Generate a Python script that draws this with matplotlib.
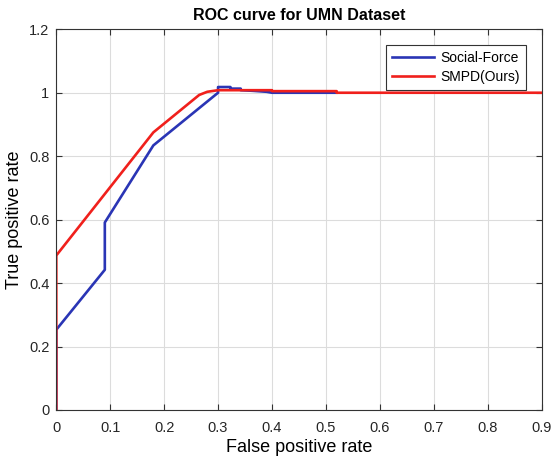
import numpy as np
import matplotlib.pyplot as plt

plt.rcParams['font.family'] = ['Liberation Sans', 'DejaVu Sans']

# Social-Force ROC points
sf_fpr = [0.0, 0.0, 0.09, 0.09, 0.18, 0.30, 0.30, 0.323, 0.323, 0.342, 0.342, 0.365, 0.39, 0.40, 0.519]
sf_tpr = [0.0, 0.253, 0.442, 0.591, 0.834, 1.0, 1.018, 1.018, 1.013, 1.013, 1.008, 1.006, 1.003, 1.0, 1.0]

# SMPD(Ours) ROC points
smpd_fpr = [0.0, 0.0, 0.18, 0.265, 0.28, 0.30, 0.40, 0.40, 0.52, 0.52, 0.9]
smpd_tpr = [0.0, 0.487, 0.875, 0.993, 1.003, 1.008, 1.008, 1.005, 1.005, 1.0, 1.0]

xticks = [0, 0.1, 0.2, 0.3, 0.4, 0.5, 0.6, 0.7, 0.8, 0.9]
xticklabels = ['0', '0.1', '0.2', '0.3', '0.4', '0.5', '0.6', '0.7', '0.8', '0.9']
yticks = [0, 0.2, 0.4, 0.6, 0.8, 1.0, 1.2]
yticklabels = ['0', '0.2', '0.4', '0.6', '0.8', '1', '1.2']

fig = plt.figure(figsize=(5.54, 4.62), dpi=100)
ax = fig.add_axes([0.1016, 0.1126, 0.876, 0.824])

ax.plot(sf_fpr, sf_tpr, color='#2a35b5', linewidth=1.9, label='Social-Force')
ax.plot(smpd_fpr, smpd_tpr, color='#f0201c', linewidth=1.9, label='SMPD(Ours)')

ax.set_xlim(0, 0.9)
ax.set_ylim(0, 1.2)
ax.set_xticks(xticks)
ax.set_xticklabels(xticklabels)
ax.set_yticks(yticks)
ax.set_yticklabels(yticklabels)
ax.tick_params(direction='in', top=True, right=True, labelsize=10.5, length=4,
               color='#333333', labelcolor='#262626')
ax.tick_params(axis='x', pad=8)
ax.tick_params(axis='y', pad=5)
ax.grid(True, color='#dcdcdc', linewidth=0.8)
for s in ax.spines.values():
    s.set_color('#333333')
    s.set_linewidth(0.8)

ax.set_title('ROC curve for UMN Dataset', fontsize=11.5, fontweight='bold', pad=7)
ax.set_xlabel('False positive rate', fontsize=13, labelpad=3)
ax.set_ylabel('True positive rate', fontsize=13, labelpad=4)

leg = ax.legend(loc='upper right', fontsize=10, fancybox=False, framealpha=1,
                edgecolor='#333333', borderaxespad=1.1, handlelength=3.0,
                handletextpad=0.5, borderpad=0.45, labelspacing=0.35)
leg.get_frame().set_linewidth(0.8)

fig.savefig('out.png', dpi=100)
